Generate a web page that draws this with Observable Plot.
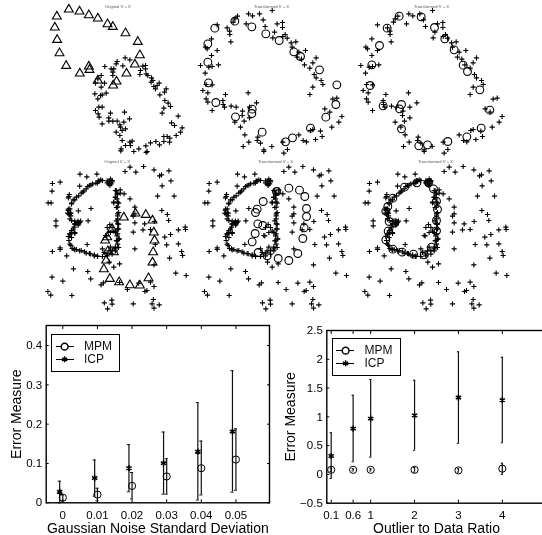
<!DOCTYPE html>
<html>
<head>
<meta charset="utf-8">
<script src="https://cdn.jsdelivr.net/npm/d3@7"></script>
<script src="https://cdn.jsdelivr.net/npm/@observablehq/plot@0.6"></script>
<style>
html,body{margin:0;padding:0;background:#fff;overflow:hidden;width:542px;height:535px}
#chart{position:relative;width:542px;height:535px;overflow:hidden;font-family:"Liberation Sans",Arial,sans-serif;filter:blur(.3px)}
#chart svg{position:absolute;left:0;top:0;background:transparent}
.legend{position:absolute;border:1.5px solid #000;background:#fff;box-sizing:border-box;width:69px;height:38px;font-size:12px;color:#111}
.legend span{position:absolute;left:32px;line-height:12px}
.legend i{position:absolute;left:3.5px;width:18px;border-top:1px solid #000}
.legend svg{position:absolute!important}
</style>
</head>
<body>
<div id="chart"></div>
<script>
// Top row, left panel (values in picture units of that panel)
const triA=[[205,27],[237,33],[265,44],[292,54],[321,71],[337,79],[375,98],[412,124],[418,164],[403,192],[378,219],[348,243],[338,255],[292,240],[265,198],[267,208],[238,219],[197,196],[177,158],[170,118],[163,81],[169,48]];
const plusA=[[374,172],[388,178],[350,183],[347,190],[313,198],[367,196],[332,205],[340,205],[337,215],[337,225],[302,225],[435,195],[427,197],[435,205],[420,210],[418,222],[437,220],[442,225],[453,232],[457,240],[452,245],[476,248],[470,255],[460,258],[465,265],[497,265],[492,275],[478,283],[493,300],[503,308],[510,318],[490,323],[485,338],[533,347],[513,367],[522,375],[545,382],[540,395],[527,405],[500,408],[490,408],[508,413],[507,425],[490,423],[477,433],[466,423],[450,427],[436,436],[415,445],[395,422],[388,425],[390,435],[375,435],[365,420],[362,445],[372,335],[387,355],[370,365],[358,373],[360,380],[375,385],[365,390],[347,395],[358,405],[330,338],[325,352],[325,362],[337,362],[350,362],[305,370],[296,350],[293,340],[285,330],[295,320],[305,320],[300,285],[292,295],[283,280],[317,278],[305,283],[302,260],[312,248],[285,248],[292,235],[400,453],[440,453],[437,456],[361,451]];
// Top row, transformed panels share their crosses
const plusTop=[[290,30],[219,40],[231,46],[252,40],[263,58],[186,47],[178,55],[173,65],[125,73],[155,82],[162,92],[163,102],[166,124],[212,70],[269,78],[305,70],[321,66],[321,81],[297,95],[292,112],[322,108],[329,102],[335,113],[347,127],[361,124],[350,140],[390,150],[370,155],[365,170],[378,176],[422,172],[412,187],[387,193],[403,203],[416,222],[422,232],[437,240],[442,252],[412,260],[403,282],[472,296],[484,293],[448,325],[463,335],[499,348],[490,365],[469,380],[440,408],[420,417],[393,424],[383,420],[370,403],[435,392],[412,387],[405,390],[108,115],[90,140],[95,145],[125,150],[108,165],[129,193],[75,195],[100,200],[110,198],[89,218],[92,252],[110,253],[82,270],[97,277],[92,295],[97,305],[110,330],[150,282],[218,277],[142,300],[143,312],[147,320],[167,317],[182,320],[243,307],[201,332],[222,320],[200,345],[222,352],[206,362],[178,365],[195,380],[208,403],[247,410],[245,420],[220,425],[255,428],[203,438],[289,438],[265,448],[322,425],[336,447],[265,453],[325,458]];
const circB=[[118,83],[178,62],[229,79],[271,100],[311,120],[355,154],[375,168],[432,208],[484,253],[481,312],[451,350],[405,383],[351,412],[330,424],[260,395],[230,326],[229,339],[180,349],[121,306],[99,247],[97,185],[97,130]];
const circC=[[140,47],[206,49],[246,81],[277,115],[305,148],[332,194],[345,213],[382,268],[412,329],[386,383],[343,409],[286,423],[225,433],[199,436],[147,385],[141,325],[147,312],[92,316],[53,255],[58,193],[81,135],[104,83]];
// Bottom row crosses
const plusOutside=[[340,50],[325,63],[358,65],[382,48],[414,58],[431,76],[437,73],[460,61],[466,91],[439,106],[425,137],[476,137],[340,145],[290,157],[355,170],[438,180],[455,192],[459,210],[415,213],[355,217],[350,245],[403,237],[489,238],[510,230],[511,237],[465,252],[447,260],[418,282],[453,283],[489,280],[499,303],[502,315],[462,323],[414,343],[481,368],[513,375],[355,295],[367,398],[403,395],[414,408],[392,420],[386,423],[332,417],[308,396],[258,397],[251,403],[219,385],[210,363],[166,355],[145,316],[125,292],[125,297],[101,303],[112,211],[112,226],[211,211],[208,282],[88,157],[97,157],[101,99],[125,95],[100,122],[153,132],[186,71],[207,79],[238,71],[185,107],[181,181],[220,174],[100,380],[133,392],[87,423],[96,434],[161,435],[261,457],[284,449],[285,461],[271,475],[350,460],[412,447],[408,460],[430,463],[414,473],[276,335],[290,350],[308,340],[355,190],[350,197],[385,220],[380,238]];
const plusHeart=[[285,90],[277,92],[270,97],[282,100],[278,105],[255,90],[245,92],[240,97],[225,100],[215,105],[205,115],[195,125],[190,128],[175,140],[165,148],[150,142],[160,160],[155,175],[150,180],[158,188],[152,192],[155,205],[160,210],[170,212],[180,212],[188,212],[170,220],[182,220],[168,230],[160,240],[170,246],[155,250],[150,258],[152,270],[158,285],[168,295],[175,297],[190,300],[205,308],[218,310],[230,313],[240,317],[270,310],[285,300],[295,290],[300,270],[307,265],[302,250],[305,235],[302,220],[302,205],[302,190],[302,170],[302,155],[290,155],[295,120],[300,130],[295,140],[300,145],[290,242],[278,222],[265,255],[322,130],[310,118],[255,295],[280,290],[295,295],
[280,86],[270,91],[285,94],[275,101],[250,88],[242,91],[235,98],[220,104],[210,108],[198,121],[182,136],[170,148],[160,158],[152,138],[150,176],[155,188],[148,188],[158,196],[178,216],[185,216],[170,221],[180,224],[165,236],[160,246],[155,251],[170,249],[160,261],[155,281],[162,294],[170,298],[185,301],[200,304],[215,309],[230,316],[240,318],[255,318],[270,316],[285,311],[295,301],[305,291],[302,281],[298,271],[305,266],[300,256],[295,246],[302,236],[305,221],[298,211],[302,196],[305,186],[298,171],[305,158],[295,141],[302,131],[298,121],[310,128],[285,231],[270,231],[280,246],[268,256],[260,306],[275,301]];
const plusBottom=plusOutside.concat(plusHeart);
const triD=[[370,201],[405,189],[436,193],[456,210],[460,246],[462,270],[458,305],[456,336],[444,383],[418,405],[388,404],[356,395],[328,385],[310,356],[317,330],[322,302],[340,305],[314,270],[320,260],[335,235]];
const circE=[[263,153],[245,176],[240,186],[247,220],[262,225],[239,249],[230,274],[248,306],[275,316],[308,324],[340,330],[367,309],[382,264],[386,232],[393,198],[393,174],[388,138],[372,119],[340,113],[303,123]];
const circF=[[156,110],[193,97],[228,97],[243,115],[252,152],[255,177],[252,210],[252,241],[237,290],[215,313],[183,311],[149,305],[121,296],[100,268],[107,242],[110,213],[127,217],[100,182],[106,168],[121,143]];
const titleOrig="Original V + X", titleTrans="Transformed V + X";

// Noise chart
const noiseX=[0,0.01,0.02,0.03,0.04,0.05];
const icpNoiseX=[-0.0009,0.0092,0.0191,0.0291,0.039,0.049];
const mpmNoise=[0.013,0.021,0.043,0.067,0.088,0.11];
const mpmNoiseHi=[0.02,0.037,0.077,0.112,0.157,0.188];
const mpmNoiseLo=[0.005,0.005,0.01,0.022,0.02,0.032];
const icpNoise=[0.028,0.063,0.088,0.101,0.13,0.181];
const icpNoiseHi=[0.055,0.109,0.148,0.18,0.255,0.336];
const icpNoiseLo=[0,0.017,0.028,0.022,0.007,0.027];
const noiseYTicks=[0,0.1,0.2,0.3,0.4];
// Outlier chart
const ratioX=[0.1,0.6,1,2,3,4];
const mpmRatio=[0.08,0.08,0.08,0.08,0.07,0.1];
const mpmRatioHi=[0.11,0.1,0.1,0.12,0.1,0.195];
const mpmRatioLo=[0.05,0.06,0.06,0.04,0.04,0];
const icpRatio=[0.32,0.795,0.97,1.025,1.335,1.29];
const icpRatioHi=[0.725,1.375,1.65,1.635,2.13,2.035];
const icpRatioLo=[-0.07,0.22,0.3,0.42,0.54,0.55];
const ratioYTicks=[-0.5,0,0.5,1,1.5,2,2.5];

const chart=document.getElementById("chart");
const font='"Liberation Sans",Arial,sans-serif';
const ink="#000";

function scatter({left,top,pluses,plusX,tris,circs,title,titleAt}){
  const marks=[
    Plot.dot(pluses,{x:plusX||(d=>d[0]),y:d=>d[1],symbol:"plus",r:1.8,stroke:ink,strokeWidth:1.1})
  ];
  if(tris) marks.push(Plot.dot(tris,{x:d=>d[0],y:d=>d[1],symbol:"triangle",r:3.3,stroke:ink,strokeWidth:1.1,fill:"none"}));
  if(circs) marks.push(Plot.dot(circs,{x:d=>d[0],y:d=>d[1],r:3.9,stroke:ink,strokeWidth:1.1,fill:"none"}));
  marks.push(Plot.text([title],{x:()=>titleAt[0],y:()=>titleAt[1],text:d=>d,fontSize:4.2,fill:"#555"}));
  const p=Plot.plot({
    width:542,height:535,margin:0,
    style:{background:"transparent",fontFamily:font},
    x:{axis:null,domain:[0,570],range:[left,left+190]},
    y:{axis:null,domain:[0,570],range:[top,top+190]},
    marks
  });
  chart.appendChild(p);
}
scatter({left:0,top:0,pluses:plusA,tris:triA,title:titleOrig,titleAt:[352,17]});
scatter({left:175,top:0,pluses:plusTop,circs:circB,title:titleTrans,titleAt:[288,17]});
scatter({left:335.33,top:0,pluses:plusTop,circs:circC.map(([x,y])=>[x+50,y]),title:titleTrans,titleAt:[287,17]});
scatter({left:0,top:150,pluses:plusBottom,plusX:d=>143+(d[0]-88)/1.0266,tris:triD,title:titleOrig,titleAt:[350,34]});
scatter({left:175,top:150,pluses:plusBottom,circs:circE,title:titleTrans,titleAt:[300,34]});
scatter({left:335.33,top:150,pluses:plusBottom,circs:circF.map(([x,y])=>[x+50,y]),title:titleTrans,titleAt:[299,34]});

function errorChart({frame,xDomain,yDomain,xTicks,yTicks,mpmX,icpX,mpm,mpmHi,mpmLo,icp,icpHi,icpLo,capW,xLabel,yLabel,yLabelLeft}){
  const W=542,H=535;
  const tbl=(xs,m,hi,lo)=>xs.map((x,i)=>({x,m:m[i],hi:hi[i],lo:lo[i]}));
  const A=tbl(mpmX,mpm,mpmHi,mpmLo),B=tbl(icpX,icp,icpHi,icpLo);
  const errs=(rows)=>[
    Plot.ruleX(rows,{x:"x",y1:"lo",y2:"hi",stroke:"#111",strokeWidth:1.2}),
    Plot.ruleY(rows,{x1:d=>d.x-capW,x2:d=>d.x+capW,y:"hi",stroke:"#111",strokeWidth:1}),
    Plot.ruleY(rows,{x1:d=>d.x-capW,x2:d=>d.x+capW,y:"lo",stroke:"#111",strokeWidth:1})
  ];
  const fmt=d=>String(d).replace("-","\u2212");
  const p=Plot.plot({
    width:W,height:H,
    marginLeft:frame[0],marginRight:W-frame[1],marginTop:frame[2],marginBottom:H-frame[3],
    style:{background:"transparent",fontFamily:font,color:ink,fontSize:"11.5px"},
    x:{domain:xDomain,axis:null},
    y:{domain:yDomain,axis:null},
    marks:[
      ...errs(B),...errs(A),
      Plot.dot(A,{x:"x",y:"m",r:3.6,stroke:ink,strokeWidth:1,fill:"none"}),
      Plot.dot(B,{x:"x",y:"m",symbol:"asterisk",r:2.9,stroke:ink,strokeWidth:1.5}),
      Plot.axisX(xTicks,{anchor:"bottom",tickSize:-3,tickPadding:11,tickFormat:String,label:null,fontSize:11.5}),
      Plot.axisX(xTicks,{anchor:"top",tickSize:-3,tickFormat:()=>"",label:null}),
      Plot.axisY(yTicks,{anchor:"left",tickSize:-3,tickPadding:7,tickFormat:fmt,label:null,fontSize:11.5}),
      Plot.axisY(yTicks,{anchor:"right",tickSize:-3,tickFormat:()=>"",label:null}),
      Plot.frame({stroke:"#000",strokeWidth:1.4}),
      Plot.text([xLabel],{frameAnchor:"bottom",dy:30,lineAnchor:"bottom",text:d=>d,fontSize:14,fill:ink}),
      Plot.text([yLabel],{frameAnchor:"left",dx:-(frame[0]-yLabelLeft),rotate:-90,textAnchor:"middle",text:d=>d,fontSize:14,fill:ink})
    ]
  });
  chart.appendChild(p);
}
errorChart({frame:[45.7,269,325,502.3],xDomain:[-0.0048,0.0597],yDomain:[0,0.451],xTicks:noiseX,yTicks:noiseYTicks,
  mpmX:noiseX,icpX:icpNoiseX,mpm:mpmNoise,mpmHi:mpmNoiseHi,mpmLo:mpmNoiseLo,icp:icpNoise,icpHi:icpNoiseHi,icpLo:icpNoiseLo,capW:0.00045,
  xLabel:"Gaussian Noise Standard Deviation",yLabel:"Error Measure",yLabelLeft:16});
errorChart({frame:[326.3,545.7,330,502.7],xDomain:[0,5],yDomain:[-0.5,2.5],xTicks:ratioX,yTicks:ratioYTicks,
  mpmX:ratioX,icpX:ratioX,mpm:mpmRatio,mpmHi:mpmRatioHi,mpmLo:mpmRatioLo,icp:icpRatio,icpHi:icpRatioHi,icpLo:icpRatioLo,capW:0.025,
  xLabel:"Outlier to Data Ratio",yLabel:"Error Measure",yLabelLeft:290});

function legend(left,top){
  const d=document.createElement("div");
  d.className="legend";d.style.left=left+"px";d.style.top=top+"px";
  d.innerHTML=`<i style="top:11px"></i><i style="top:24px"></i><span style="top:5px">MPM</span><span style="top:18px">ICP</span>`;
  chart.appendChild(d);
  const p=Plot.plot({width:69,height:38,margin:0,style:{background:"transparent"},
    x:{axis:null,domain:[0,69],range:[0,69]},y:{axis:null,domain:[0,38],range:[0,38]},
    marks:[
      Plot.dot(["MPM"],{x:()=>12.5,y:()=>11.5,r:3.5,stroke:ink,fill:"#fff"}),
      Plot.dot(["ICP"],{x:()=>12.5,y:()=>24.5,r:2.9,symbol:"asterisk",stroke:ink,strokeWidth:1.5})
    ]});
  d.appendChild(p);
}
legend(51,333.5);
legend(331.5,337.5);
</script>
</body>
</html>
